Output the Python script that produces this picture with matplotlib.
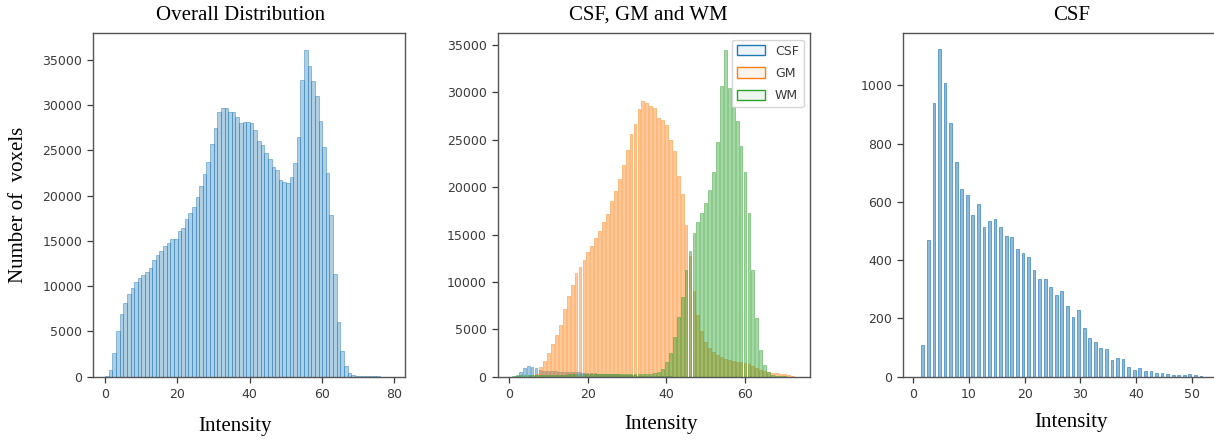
import numpy as np
import matplotlib
matplotlib.use("Agg")
import matplotlib.pyplot as plt
from matplotlib.patches import Patch

# overall intensity histogram (bins 0..78), counts
overall_counts = [100, 700, 2600, 5000, 6900, 8100, 9100, 9800, 10500, 10900,
                  11200, 11600, 12000, 12900, 13400, 13900, 14400, 14800, 15200, 15200,
                  16100, 16400, 17400, 18100, 18800, 19900, 21100, 22400, 23700, 25700,
                  27500, 29300, 29700, 29700, 29300, 29200, 28700, 28000, 28100, 28100,
                  28000, 27300, 26000, 25600, 24700, 24100, 23200, 22800, 21700, 21500,
                  21400, 22100, 23600, 26500, 32800, 36100, 34300, 32700, 31000, 28300,
                  25400, 22500, 17900, 11400, 6000, 2800, 1200, 400, 200, 120,
                  80, 60, 50, 40, 30, 30, 20, 20, 10]
overall_bins = np.arange(len(overall_counts))

# CSF histogram (intensity 1..51)
csf_bins = np.arange(1, 52)
csf_counts = [109, 471, 940, 1124, 1009, 870, 738, 643, 624, 555,
              593, 515, 535, 543, 515, 483, 480, 437, 423, 410,
              368, 334, 334, 307, 280, 294, 243, 206, 229, 166,
              134, 120, 100, 96, 57, 65, 61, 34, 23, 30,
              21, 21, 14, 11, 8, 6, 7, 5, 8, 5, 4]

# GM histogram (intensity 7..72)
gm_bins = np.arange(7, 73)
gm_counts = [300, 1000, 1700, 2500, 3400, 4400, 5500, 7100, 8500, 9700,
             10900, 11600, 12300, 13200, 13800, 14600, 15400, 16300, 17200, 18500,
             19600, 20900, 22300, 23900, 25600, 26700, 28200, 29100, 28900, 28600,
             28300, 27300, 27100, 26600, 25000, 23800, 21200, 19300, 16000, 12700,
             9000, 6500, 4800, 3700, 3000, 2600, 2300, 2100, 1900, 1800,
             1700, 1600, 1500, 1400, 1300, 1100, 900, 750, 600, 500,
             400, 350, 300, 250, 150, 50]

# WM histogram (intensity 1..70)
wm_bins = np.arange(1, 71)
wm_counts = [100, 150, 150, 200, 200, 200, 200, 200, 220, 220,
             220, 230, 230, 230, 240, 240, 240, 250, 250, 250,
             250, 250, 260, 260, 260, 270, 270, 270, 280, 280,
             280, 290, 290, 300, 300, 320, 350, 500, 800, 1500,
             2500, 4200, 6300, 8400, 11300, 13300, 15200, 16300, 17300, 18300,
             19700, 21600, 24800, 30700, 34500, 30500, 28500, 27000, 24300, 21600,
             17300, 11300, 6200, 2800, 1200, 500, 200, 100, 50, 30]

C_BLUE, C_ORANGE, C_GREEN = '#1f77b4', '#ff7f0e', '#2ca02c'
TICK_C = '#3a3a3a'

W, H = 1214, 441
fig = plt.figure(figsize=(W / 100, H / 100), dpi=100)


def add_ax(left, right, top=33.3, bottom=376.7):
    ax = fig.add_axes([left / W, 1 - bottom / H, (right - left) / W, (bottom - top) / H])
    for s in ax.spines.values():
        s.set_color('#555555')
        s.set_linewidth(1.0)
    ax.tick_params(labelsize=9, colors=TICK_C, length=4.5, width=0.9)
    return ax


def rgba(c, a):
    return (*matplotlib.colors.to_rgb(c), a)


# panel 1
ax1 = add_ax(93.3, 405)
ax1.bar(overall_bins + 0.6, overall_counts, width=1.0,
        facecolor=rgba(C_BLUE, 0.36), edgecolor=rgba(C_BLUE, 0.5), linewidth=0.6)
ax1.set_xlim(-3.2, 83.0)
ax1.set_ylim(0, 37950)
ax1.set_xticks([0, 20, 40, 60, 80])
ax1.set_yticks(np.arange(0, 35001, 5000))

# panel 2
ax2 = add_ax(497.7, 810)
ax2.bar(csf_bins + 0.8, csf_counts, width=0.7,
        facecolor=rgba(C_BLUE, 0.4), edgecolor=rgba(C_BLUE, 0.5), linewidth=0.6)
ax2.bar(gm_bins, gm_counts, width=0.7,
        facecolor=rgba(C_ORANGE, 0.42), edgecolor=rgba(C_ORANGE, 0.5), linewidth=0.6)
ax2.bar(wm_bins, wm_counts, width=0.7,
        facecolor=rgba(C_GREEN, 0.42), edgecolor=rgba(C_GREEN, 0.5), linewidth=0.6)
ax2.set_xlim(-2.95, 76.55)
ax2.set_ylim(0, 36230)
ax2.set_xticks([0, 20, 40, 60])
ax2.set_yticks(np.arange(0, 35001, 5000))
handles = [Patch(facecolor=rgba(c, 0.08), edgecolor=c, linewidth=1.0)
           for c in (C_BLUE, C_ORANGE, C_GREEN)]
leg = ax2.legend(handles, ['CSF', 'GM', 'WM'], loc='upper right', fontsize=9,
                 handlelength=2.2, handleheight=0.9, labelspacing=0.75,
                 borderaxespad=0.5)
for t in leg.get_texts():
    t.set_color(TICK_C)

# panel 3
ax3 = add_ax(903.3, 1216)
ax3.bar(csf_bins + 0.7, csf_counts, width=0.5,
        facecolor=rgba(C_BLUE, 0.5), edgecolor=rgba(C_BLUE, 0.7), linewidth=0.6)
ax3.set_xlim(-1.8, 54.4)
ax3.set_ylim(0, 1179)
ax3.set_xticks([0, 10, 20, 30, 40, 50])
ax3.set_yticks(np.arange(0, 1001, 200))

serif = dict(family='Liberation Serif', fontsize=15, color='black', ha='center', va='center')
fig.text(240.8 / W, 1 - 15 / H, 'Overall Distribution', **serif)
fig.text(648.7 / W, 1 - 15 / H, 'CSF, GM and WM', **serif)
fig.text(1072 / W, 1 - 15 / H, 'CSF', **serif)
fig.text(234.7 / W, 1 - 427 / H, 'Intensity', **serif)
fig.text(661 / W, 1 - 425 / H, 'Intensity', **serif)
fig.text(1071 / W, 1 - 423 / H, 'Intensity', **serif)
fig.text(19 / W, 1 - 205 / H, 'Number of  voxels', rotation=90, **serif)

fig.savefig('out.png', dpi=100)
